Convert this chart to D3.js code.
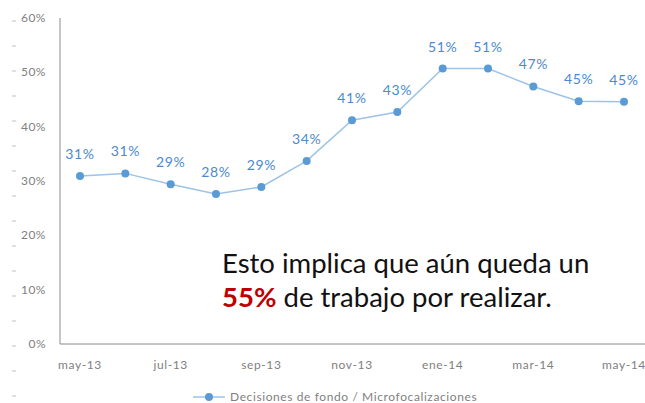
<!DOCTYPE html>
<html>
<head>
<meta charset="utf-8">
<script src="https://cdn.jsdelivr.net/npm/d3@7"></script>
<style>
  body { margin: 0; background: #fff; }
</style>
</head>
<body>
<script>
const width = 645, height = 403;

// data
const months = ["may-13", "jun-13", "jul-13", "ago-13", "sep-13", "oct-13", "nov-13",
                "dic-13", "ene-14", "feb-14", "mar-14", "abr-14", "may-14"];
const values = [30.9, 31.4, 29.4, 27.6, 28.9, 33.7, 41.2, 42.7, 50.7, 50.7, 47.4, 44.7, 44.6];
const yTicks = [0, 10, 20, 30, 40, 50, 60];
const seriesName = "Decisiones de fondo / Microfocalizaciones";

const svg = d3.select("body").append("svg").attr("width", width).attr("height", height);

const x = d3.scalePoint().domain(months).range([80, 624]);
const y = d3.scaleLinear().domain([0, 60]).range([344, 18]);

// small dashes along the left edge
svg.selectAll(".dash")
   .data(d3.range(21, 400, 25))
   .enter().append("line")
   .attr("x1", 12).attr("x2", 16)
   .attr("y1", d => d).attr("y2", d => d)
   .style("stroke", "#bfbfbf")
   .style("stroke-width", 1);

// y axis labels
svg.selectAll(".ylab")
   .data(yTicks)
   .enter().append("text")
   .attr("x", 46)
   .attr("y", d => y(d) + 4)
   .text(d => d + "%")
   .style("font-family", "Lato")
   .style("font-size", "12px")
   .style("letter-spacing", "0.5px")
   .style("fill", "#7f7f7f")
   .style("text-anchor", "end");

// axis lines
svg.append("line")
   .attr("x1", 60).attr("x2", 60).attr("y1", 18).attr("y2", 344)
   .style("stroke", "#8c8c8c").style("stroke-width", 1);
svg.append("line")
   .attr("x1", 60).attr("x2", width).attr("y1", 344).attr("y2", 344)
   .style("stroke", "#8c8c8c").style("stroke-width", 1);

// x labels every two months
svg.selectAll(".xlab")
   .data(months.filter((d, i) => i % 2 === 0))
   .enter().append("text")
   .attr("x", d => x(d))
   .attr("y", 369)
   .text(d => d)
   .style("font-family", "Lato")
   .style("font-size", "12px")
   .style("letter-spacing", "0.6px")
   .style("fill", "#7f7f7f")
   .style("text-anchor", "middle");

// the series
const line = d3.line().x((d, i) => x(months[i])).y(d => y(d));
svg.append("path")
   .datum(values)
   .attr("d", line)
   .style("fill", "none")
   .style("stroke", "#9dc3e6")
   .style("stroke-width", 1.5);

svg.selectAll(".dot")
   .data(values)
   .enter().append("circle")
   .attr("cx", (d, i) => x(months[i]))
   .attr("cy", d => y(d))
   .attr("r", 4)
   .style("fill", "#5b9bd5");

svg.selectAll(".vlab")
   .data(values)
   .enter().append("text")
   .attr("x", (d, i) => x(months[i]))
   .attr("y", d => y(d) - 17)
   .text(d => Math.round(d) + "%")
   .style("font-family", "Lato")
   .style("font-size", "14px")
   .style("letter-spacing", "0.6px")
   .style("fill", "#4a8ad0")
   .style("text-anchor", "middle");

// legend
const legend = svg.append("g").attr("transform", "translate(193, 397)");
legend.append("line")
      .attr("x1", 0).attr("x2", 32)
      .style("stroke", "#9dc3e6").style("stroke-width", 1.5);
legend.append("circle").attr("cx", 16).attr("r", 4).style("fill", "#5b9bd5");
legend.append("text")
      .attr("x", 37).attr("y", 4)
      .text(seriesName)
      .style("font-family", "Lato")
      .style("font-size", "12px")
      .style("letter-spacing", "0.6px")
      .style("fill", "#7f7f7f");

// annotation
const note = svg.append("g").style("font-family", "Lato").style("font-size", "27.5px").style("fill", "#111");
note.append("text").attr("x", 222).attr("y", 273).text("Esto implica que aún queda un");
const line2 = note.append("text").attr("x", 222).attr("y", 307);
line2.append("tspan").text("55%").style("font-weight", "bold").style("fill", "#c00000");
line2.append("tspan").text(" de trabajo por realizar.");
</script>
</body>
</html>
